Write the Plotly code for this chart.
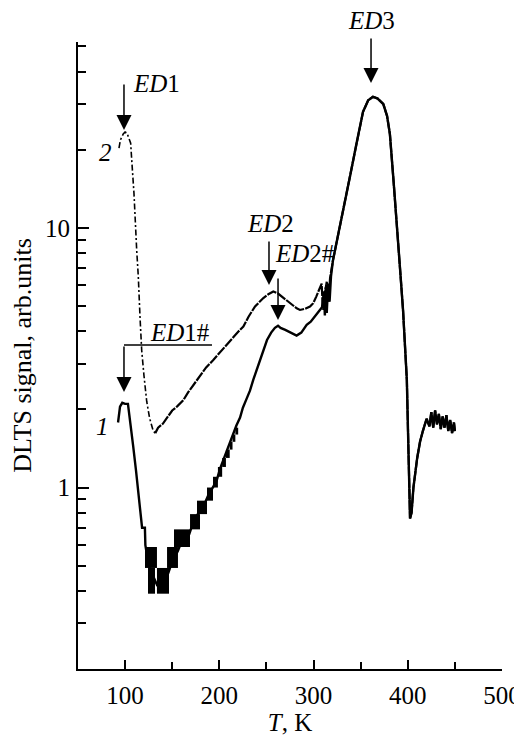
import math
import plotly.graph_objects as go

# ---- data ----
# curve 1 (solid), low-temperature part
t1 = [92.5, 94.6, 97, 100, 103, 105, 107, 108.5, 111.6, 114.7, 118, 121, 121.5,
      125, 130, 134, 140, 146, 150, 156, 160, 168, 172, 178, 184, 188, 193, 197,
      200.7, 205, 209, 214.5, 218, 222, 225, 229, 232.5, 236, 240, 245, 250.6,
      255, 259, 262.3, 265, 270, 276, 282, 287, 292.7, 297, 303.3, 306, 309,
      311, 312, 313, 314, 315.5, 317, 318.5]
v1 = [1.78, 2.05, 2.12, 2.1, 2.1, 1.8, 1.6, 1.45, 1.16, 0.9, 0.7, 0.7, 0.6,
      0.5, 0.45, 0.42, 0.42, 0.47, 0.52, 0.57, 0.62, 0.66, 0.73, 0.8, 0.86, 0.93, 1.0, 1.06,
      1.18, 1.3, 1.42, 1.61, 1.73, 1.86, 2.03, 2.2, 2.36, 2.6, 2.85, 3.25, 3.7,
      3.95, 4.12, 4.2, 4.12, 4.05, 3.95, 3.85, 3.95, 4.23, 4.35, 4.68, 4.8, 4.95,
      5.7, 4.6, 5.9, 4.7, 6.1, 5.2, 6.5]

# curve 2 (dash-dot), steep low-temperature peak ED1
t2a = [93.5, 95, 98, 100, 102, 104, 105.9, 107, 109.4, 112.3, 114, 115.8, 117.6,
       120, 122.9, 126, 129.9, 132]
v2a = [20.3, 21.8, 23, 23.4, 23.2, 22.3, 21.2, 18.3, 13.6, 8.2, 6.5, 4.55, 3.38,
       2.7, 2.15, 1.85, 1.65, 1.62]
# curve 2, from the minimum up to the ED3 rise
t2b = [132, 135, 140, 144.1, 150, 155, 161.8, 167, 173,
       179.5, 186, 193.6, 200, 207.8, 215, 220, 225.5, 231, 237.9, 246.7, 252,
       257.3, 262, 268, 274, 282.1, 285.6, 291, 296.2, 299.7, 303, 306.8, 308.6,
       309.5, 310.4, 312, 314, 316, 317.5]
v2b = [1.62, 1.7, 1.76, 1.84, 1.98, 2.05, 2.17, 2.33, 2.5,
       2.68, 2.9, 3.1, 3.3, 3.54, 3.8, 3.98, 4.17, 4.55, 4.98, 5.37, 5.55,
       5.69, 5.6, 5.37, 5.15, 4.9, 4.83, 4.88, 4.98, 5.13, 5.45, 5.85, 6.1,
       5.2, 4.83, 5.6, 6.2, 5.2, 6.4]

# common high-temperature part (ED3 peak and tail)
t_hi = [320.6, 325, 332, 339, 346, 352.5, 358, 363, 368, 374, 378, 381, 385,
        388.6, 392, 395, 397, 399, 400, 401, 402.4, 404, 406, 410, 413, 416,
        420, 423, 425, 427, 429, 431, 433, 435, 437, 439, 441, 443, 445, 447,
        449, 450]
v_hi = [7.5, 9.0, 12.2, 16.0, 21.5, 28.0, 31, 32, 31.5, 30, 27, 23, 15,
        9.5, 6.8, 4.8, 3.4, 2.6, 1.8, 1.2, 0.76, 0.8, 1.0, 1.3, 1.5, 1.65,
        1.84, 1.72, 1.95, 1.7, 1.98, 1.75, 1.92, 1.68, 1.88, 1.7, 1.9, 1.65, 1.82, 1.62,
        1.78, 1.65]

# quantisation blocks of curve 1 (T start, T end, low, high)
blk_t0 = [121.1, 124.3, 133.8, 144.5, 151.9, 168.9, 176.3, 186.9, 193.3,
          198.5, 203, 207, 211, 214, 217]
blk_t1 = [133.8, 131.7, 146.6, 156.1, 168.9, 179.5, 186.9, 193.3, 198.5,
          203, 207, 211, 214, 217, 220]
blk_lo = [0.49, 0.39, 0.39, 0.49, 0.59, 0.69, 0.79, 0.89, 1.0,
          1.1, 1.2, 1.3, 1.4, 1.5, 1.6]
blk_hi = [0.59, 0.49, 0.49, 0.59, 0.69, 0.79, 0.89, 1.0, 1.1,
          1.2, 1.3, 1.4, 1.5, 1.6, 1.7]

x_ticks = [100, 200, 300, 400, 500]
x_minor = [150, 250, 350, 450]
y_ticks = [1, 10]
y_minor = [0.3, 0.4, 0.5, 0.6, 0.7, 0.8, 0.9, 2, 3, 4, 5, 6, 7, 8, 9, 20, 30, 40, 50]

FONT = "Liberation Serif, Times New Roman, Times, serif"

fig = go.Figure()

fig.add_trace(go.Bar(
    x=[(a + b) / 2 for a, b in zip(blk_t0, blk_t1)],
    width=[b - a for a, b in zip(blk_t0, blk_t1)],
    base=blk_lo,
    y=[h - l for h, l in zip(blk_hi, blk_lo)],
    marker=dict(color="black", line=dict(width=0)),
    showlegend=False, hoverinfo="skip"))

fig.add_trace(go.Scatter(
    x=t2a, y=v2a, mode="lines",
    line=dict(color="black", width=1.6, dash="6px,2.5px,2px,2.5px"),
    showlegend=False))

fig.add_trace(go.Scatter(
    x=t2b + t_hi, y=v2b + v_hi, mode="lines",
    line=dict(color="black", width=2.2, dash="10px,1.2px"),
    showlegend=False))

fig.add_trace(go.Scatter(
    x=t1 + t_hi, y=v1 + v_hi, mode="lines",
    line=dict(color="black", width=2.4),
    showlegend=False))

# page body has an 8px default margin, so the figure is 8px smaller than the window
fig.update_layout(
    width=514, height=732,
    margin=dict(l=70, r=20, t=34, b=71),
    paper_bgcolor="white", plot_bgcolor="white",
    font=dict(family=FONT, size=25, color="black"),
    barmode="overlay",
    xaxis=dict(
        range=[50, 500], tickvals=x_ticks, ticks="inside", ticklen=9,
        tickwidth=1.5, tickcolor="black", automargin=False,
        minor=dict(tickvals=x_minor, ticks="inside", ticklen=7, tickwidth=1.5,
                   tickcolor="black"),
        showline=True, linewidth=2, linecolor="black",
        showgrid=False, zeroline=False, ticklabelstandoff=3,
        title=dict(text="<i>T</i>, K", standoff=0, font=dict(size=25)),
    ),
    yaxis=dict(
        type="log", range=[math.log10(0.2), math.log10(52)],
        tickvals=y_ticks, ticktext=["1", "10"], ticks="inside", ticklen=11,
        tickwidth=1.5, tickcolor="black", automargin=False,
        minor=dict(tickvals=y_minor, ticks="inside", ticklen=8, tickwidth=1.5,
                   tickcolor="black"),
        showline=True, linewidth=2, linecolor="black",
        showgrid=False, zeroline=False, ticklabelstandoff=1,
        title=dict(text="DLTS signal, arb.units", standoff=20, font=dict(size=26)),
    ),
)

labels = [
    ("<i>ED</i>1", 133.8, 0.9346),
    ("<i>ED</i>3", 361, 1.0335),
    ("<i>ED</i>2", 254.8, 0.7113),
    ("<i>ED</i>2#", 290.9, 0.6619),
    ("<i>ED</i>1#", 158.3, 0.5359),
    ("<i>2</i>", 78.7, 0.823),
    ("<i>1</i>", 76.5, 0.386),
]
for txt, x, y in labels:
    fig.add_annotation(text=txt, x=x, y=y, xref="x", yref="paper",
                       showarrow=False, xanchor="center", yanchor="middle",
                       font=dict(family=FONT, size=25, color="black"))

arrows = [
    (98.8, 0.8596, -47),
    (98.8, 0.4418, -47),
    (252.7, 0.6124, -45),
    (262.3, 0.5566, -43),
    (361, 0.9346, -46),
]
for x, y, ay in arrows:
    fig.add_annotation(text="", x=x, y=y, xref="x", yref="paper",
                       ax=0, ay=ay, showarrow=True, arrowhead=2, arrowsize=2,
                       arrowwidth=1.5, arrowcolor="black", standoff=0)

fig.add_shape(type="line", x0=98.8, x1=192.2, y0=0.5167, y1=0.5167,
              xref="x", yref="paper", line=dict(color="black", width=1.5))

fig.write_html("out.html")
